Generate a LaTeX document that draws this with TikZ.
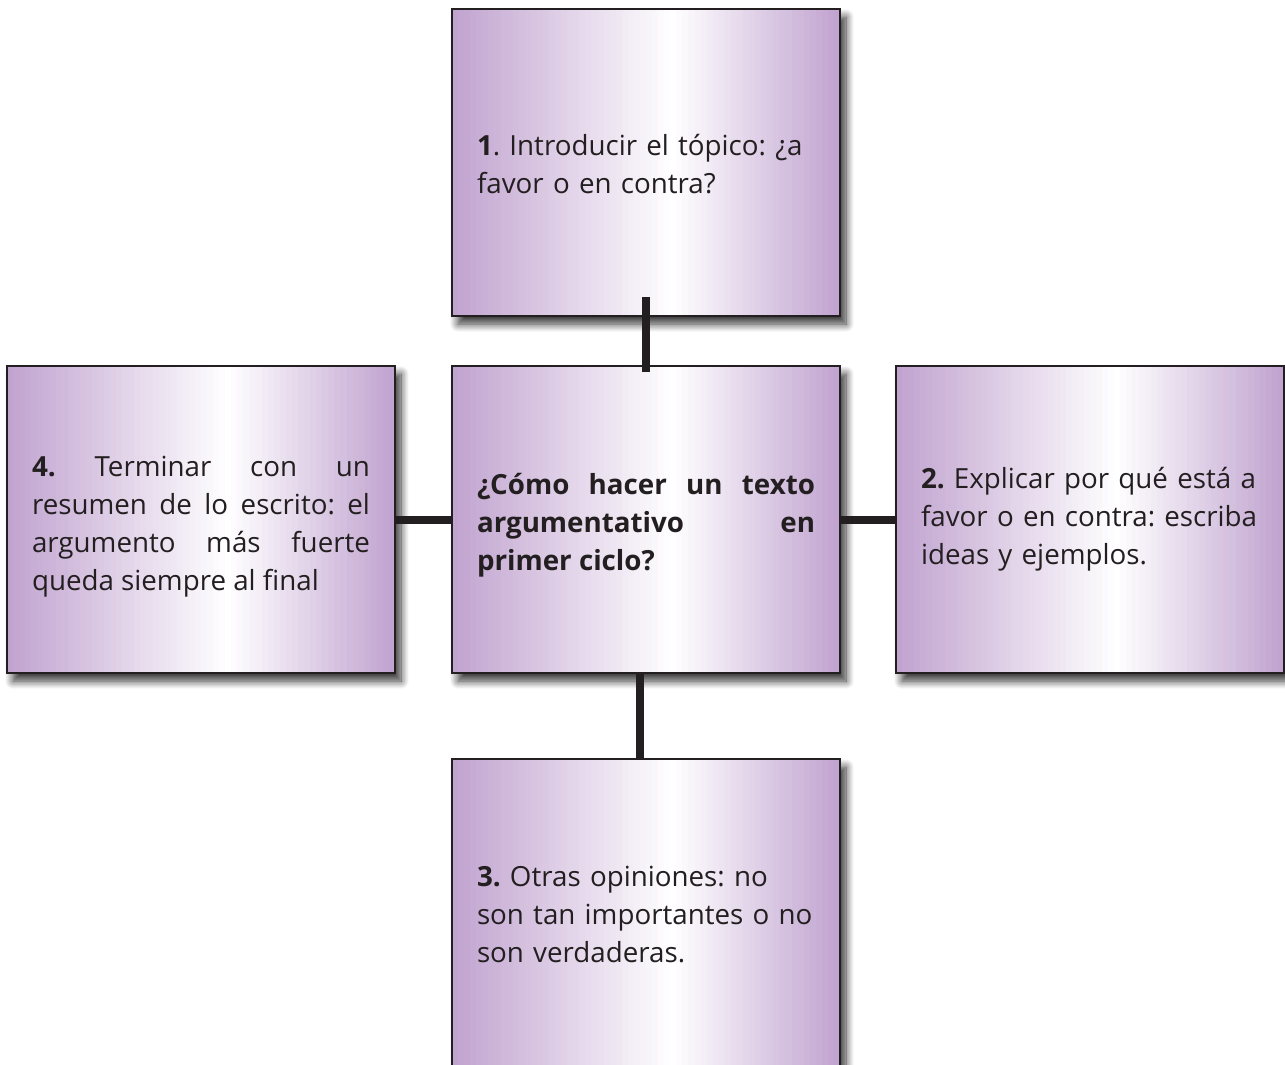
\documentclass[tikz,border=0pt]{standalone}
\usepackage{fontspec}
\setmainfont{Open Sans}
\frenchspacing
\usetikzlibrary{shadows.blur,calc}
\definecolor{boxpurple}{RGB}{192,162,207}
\definecolor{ink}{RGB}{35,31,32}
\begin{document}
\begin{tikzpicture}[x=0.75pt,y=-0.75pt,
  box/.style={draw=ink, line width=1.3pt,
    minimum width=291pt, minimum height=230.25pt, inner sep=0pt,
    path picture={
      \foreach \i in {0,...,63} {
        \pgfmathsetmacro\ta{\i/64}
        \pgfmathsetmacro\tb{(\i+1.4)/64}
        \pgfmathsetmacro\tm{(\i+0.5)/64}
        \pgfmathsetmacro\pp{\tm<0.57 ? 100*(1-\tm/0.57) : 100*(\tm-0.57)/0.43}
        \fill[boxpurple!\pp!white]
          ($(path picture bounding box.south west)!\ta!(path picture bounding box.south east)$) rectangle
          ($(path picture bounding box.north west)!\tb!(path picture bounding box.north east)$);
      }
    },
    blur shadow={shadow xshift=4.5pt, shadow yshift=-6pt, shadow blur radius=6pt, shadow blur steps=10, shadow opacity=80}},
  txt/.style={text width=253.5pt, inner sep=0pt, text=ink, font=\fontsize{20.8pt}{28.5pt}\selectfont},
  conn/.style={draw=ink, line width=6pt}]
\useasboundingbox (0,0) rectangle (1285,1064);
\node[box] (top) at (646,162.5) {};
\node[box] (center) at (646,519.5) {};
\node[box] (left) at (201,519.5) {};
\node[box] (right) at (1090,519.5) {};
\node[box] (bottom) at (646,912.5) {};
\draw[conn] ([yshift=15pt]top.south) -- ([yshift=-5.5pt]center.north);
\draw[conn] ([xshift=-4.5pt]center.south) -- ([xshift=-4.5pt]bottom.north);
\draw[conn] (left.east) -- (center.west);
\draw[conn] (center.east) -- (right.west);
\node[txt, align=left] (toptext) at ([yshift=-1pt]top.center) {\textbf{1}. Introducir el tópico: ¿a\\favor o en contra?};
\node[txt, align=justify] (centertext) at ([yshift=-4pt]center.center) {\textbf{¿Cómo hacer un texto\linebreak argumentativo en\linebreak primer ciclo?}};
\node[txt, align=justify] (lefttext) at ([yshift=-5.5pt]left.center) {\textbf{4.} Terminar con un\linebreak resumen de lo escrito: el\linebreak argumento más fuerte\linebreak queda siempre al final};
\node[txt, align=left] (righttext) at (right.center) {\textbf{2.} Explicar por qué está a\\favor o en contra: escriba\\ideas y ejemplos.};
\node[txt, align=left] (bottomtext) at ([yshift=-1.5pt]bottom.center) {\textbf{3.} Otras opiniones: no\\son tan importantes o no\\son verdaderas.};
\end{tikzpicture}
\end{document}
